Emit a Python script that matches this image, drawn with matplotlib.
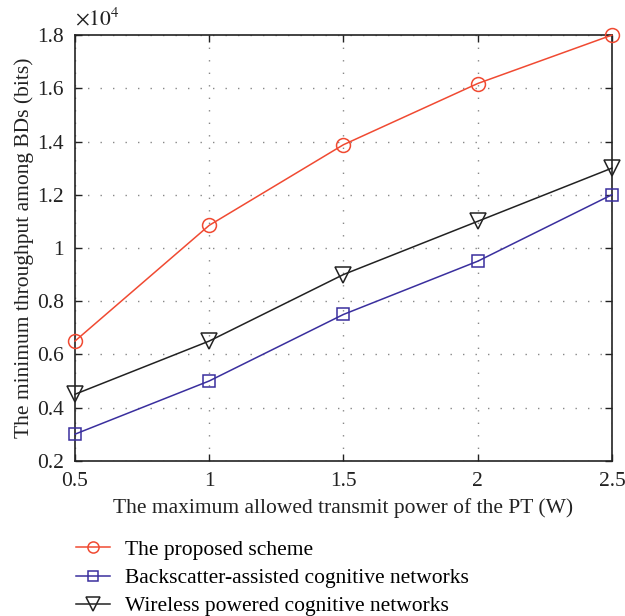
import matplotlib
matplotlib.use("Agg")
import matplotlib.pyplot as plt
from matplotlib.ticker import FuncFormatter, MultipleLocator

plt.rcParams['font.family'] = ['Liberation Serif', 'DejaVu Serif']
plt.rcParams['mathtext.fontset'] = 'stix'

power = [0.5, 1.0, 1.5, 2.0, 2.5]
proposed = [6500, 10850, 13880, 16180, 18000]
backscatter = [3000, 5000, 7500, 9500, 12000]
wireless = [4500, 6500, 9000, 11000, 13000]
labels = ["The proposed scheme",
          "Backscatter-assisted cognitive networks",
          "Wireless powered cognitive networks"]

fig = plt.figure(figsize=(6.25, 6.16), dpi=100)
ax = fig.add_axes([0.12, 0.252, 0.859, 0.691])

red = '#f04a32'
blue = '#3a2f9e'
black = '#222222'
ax.plot(power, proposed, '-o', color=red, lw=1.1, ms=10, mfc='none', mew=1.1, label=labels[0], clip_on=False, zorder=3)
ax.plot(power, backscatter, '-s', color=blue, lw=1.1, ms=8.5, mfc='none', mew=1.1, label=labels[1], clip_on=False, zorder=3)
ax.plot(power, wireless, '-v', color=black, lw=1.1, ms=12, mfc='none', mew=1.1, label=labels[2], clip_on=False, zorder=3)

ax.set_xlim(0.5, 2.5)
ax.set_ylim(2000, 18000)
ax.xaxis.set_major_locator(MultipleLocator(0.5))
ax.yaxis.set_major_locator(MultipleLocator(2000))
ax.xaxis.set_major_formatter(FuncFormatter(lambda v, p: f"{v:g}"))
ax.yaxis.set_major_formatter(FuncFormatter(lambda v, p: f"{v/1e4:g}"))
ax.tick_params(direction='in', top=True, right=True, labelsize=15.5, length=5, width=1, colors='#222222', pad=8)
ax.grid(True, linestyle=(0, (1, 8)), color='#888888', lw=1)
for s in ax.spines.values():
    s.set_color('#222222')
    s.set_linewidth(1.2)

ax.text(0.0, 1.012, r'$\times10^{4}$', transform=ax.transAxes, fontsize=15.5, ha='left', va='bottom', color='#222222')
ax.set_xlabel("The maximum allowed transmit power of the PT (W)", fontsize=15.5, color='#222222', labelpad=5)
ax.set_ylabel("The minimum throughput among BDs (bits)", fontsize=15.5, color='#222222', labelpad=2)

fig.legend(loc='upper left', bbox_to_anchor=(0.104, 0.141), frameon=False, fontsize=15.5,
           handlelength=1.6, handletextpad=0.7, labelspacing=0.38, borderpad=0, markerscale=0.8)

fig.savefig('out.png', dpi=100)
